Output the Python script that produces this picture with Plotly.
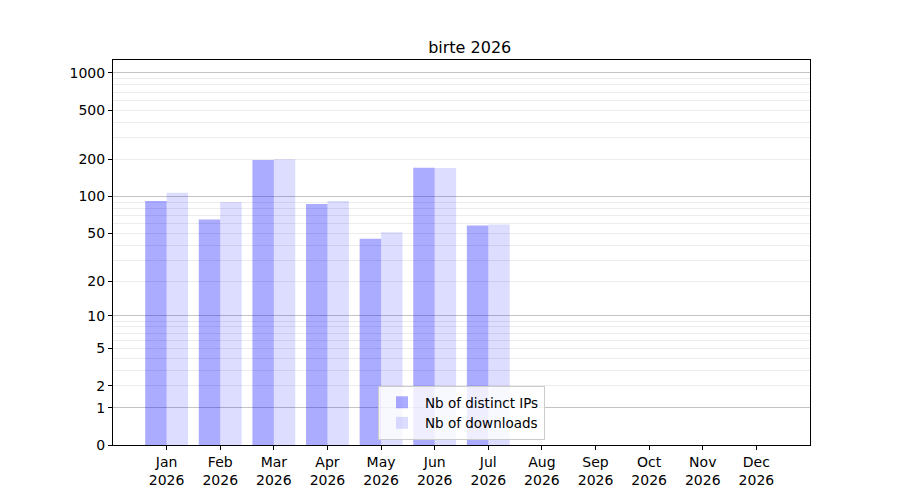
import plotly.graph_objects as go

months = ["Jan", "Feb", "Mar", "Apr", "May", "Jun", "Jul", "Aug", "Sep", "Oct", "Nov", "Dec"]
year = "2026"
distinct_ips = [91, 64, 197, 86, 44, 170, 57]
downloads = [106, 89, 200, 91, 50, 169, 58]

tick_values = [0, 1, 2, 5, 10, 20, 50, 100, 200, 500, 1000]
major_grid = [1, 10, 100, 1000]
minor_grid = [m * d for d in [1, 10, 100] for m in range(2, 10)]

# log10(1 + x) scale, done with a log axis on x + 1
def shift(vals):
    return [v + 1 for v in vals]

x_idx = list(range(len(months)))

fig = go.Figure()

fig.add_trace(go.Bar(
    x=x_idx[:len(distinct_ips)],
    y=shift(distinct_ips),
    base=1,
    name="Nb of distinct IPs",
    marker=dict(color="rgba(0,0,255,0.33)", line=dict(width=0)),
    hovertext=distinct_ips, hoverinfo="text"))

fig.add_trace(go.Bar(
    x=x_idx[:len(downloads)],
    y=shift(downloads),
    base=1,
    name="Nb of downloads",
    marker=dict(color="rgba(0,0,255,0.133)", line=dict(width=0)),
    hovertext=downloads, hoverinfo="text"))

# invisible trace to hold the darker major grid on a second axis
fig.add_trace(go.Scatter(x=[0], y=[2], yaxis="y2", mode="markers",
                         marker=dict(opacity=0), showlegend=False, hoverinfo="skip"))

yrange = [0, 3.105]

fig.update_layout(
    width=900, height=500,
    margin=dict(l=105, r=98, t=52, b=63),
    paper_bgcolor="white", plot_bgcolor="white",
    font=dict(family="DejaVu Sans", size=14, color="black"),
    title=dict(text="birte 2026", x=0.513, xanchor="center", y=0.922, yanchor="middle",
               font=dict(size=16)),
    barmode="group", bargap=0.2, bargroupgap=0,
    showlegend=True,
    legend=dict(x=0.5, xanchor="center", y=0.013, yanchor="bottom",
                bgcolor="rgba(255,255,255,0.8)", bordercolor="#cccccc", borderwidth=1,
                font=dict(size=13.5), itemwidth=36),
    xaxis=dict(
        range=[-1, 12],
        tickvals=x_idx,
        ticktext=[f"{m}<br>{year}" for m in months],
        ticks="outside", ticklen=4, tickcolor="black",
        showline=True, linecolor="black", linewidth=1, mirror=True,
        showgrid=False, zeroline=False),
    yaxis=dict(
        type="log",
        range=yrange,
        tickvals=shift(tick_values),
        ticktext=[str(t) for t in tick_values],
        ticks="outside", ticklen=4, tickcolor="black",
        showline=True, linecolor="black", linewidth=1, mirror=True,
        showgrid=False, zeroline=False,
        minor=dict(tickvals=shift(minor_grid), showgrid=True,
                   gridcolor="#ececec", gridwidth=1, ticks="")),
    yaxis2=dict(
        type="log",
        range=yrange,
        overlaying="y",
        tickvals=shift(major_grid),
        showticklabels=False,
        ticks="",
        showgrid=True, gridcolor="#c4c4c4", gridwidth=1,
        showline=False, zeroline=False),
)

fig.write_html("out.html")
